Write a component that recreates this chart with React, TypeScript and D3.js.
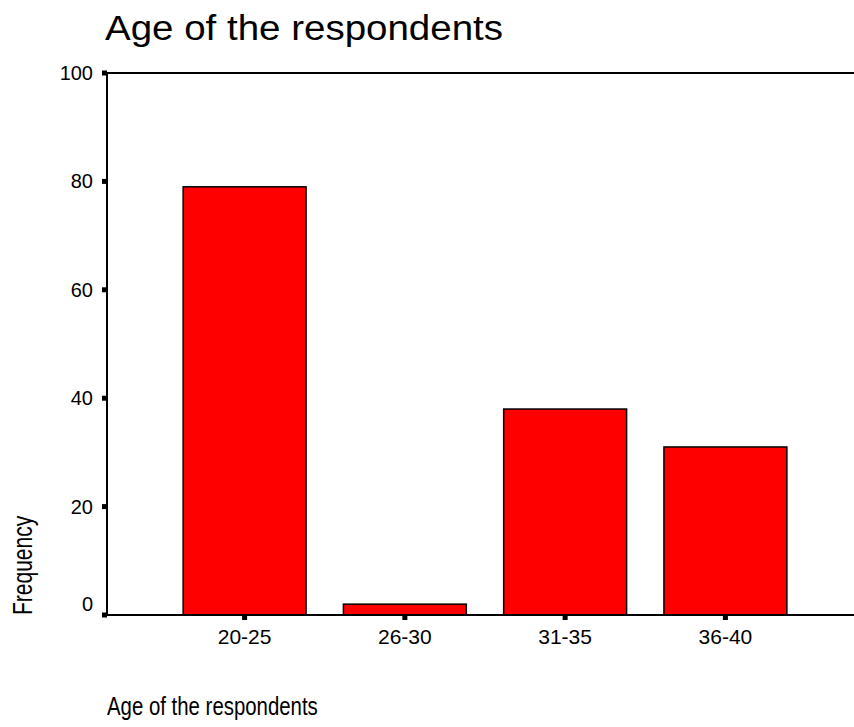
import React from "react";
import * as d3 from "d3";

const categories = ["20-25", "26-30", "31-35", "36-40"];
const frequencies = [79, 2, 38, 31];
const yTicks = [0, 20, 40, 60, 80, 100];
const title = "Age of the respondents";
const xTitle = "Age of the respondents";
const yTitle = "Frequency";

export default function App() {
  const W = 854;
  const H = 727;
  const left = 107;
  const right = 854;
  const top = 73;
  const bottom = 615;

  const y = d3.scaleLinear().domain([0, 100]).range([bottom, top]);
  const x = d3
    .scaleBand<string>()
    .domain(categories)
    .range([103, 867])
    .paddingInner(0.233)
    .paddingOuter(0.5);

  const font = "Liberation Sans, Arial, sans-serif";

  return (
    <svg
      width={W}
      height={H}
      style={{ position: "absolute", left: 0, top: 0, background: "#fff" }}
      fontFamily={font}
    >
      <rect x={0} y={0} width={W} height={H} fill="#fff" />
      <text transform="translate(105,40) scale(1.1,1)" fontSize={35} fill="#000">
        {title}
      </text>

      {categories.map((c, i) => (
        <rect
          key={c}
          x={x(c)!}
          y={y(frequencies[i])}
          width={x.bandwidth()}
          height={bottom - y(frequencies[i])}
          fill="#ff0000"
          stroke="#000"
          strokeWidth={1.5}
        />
      ))}

      {/* frame lines */}
      <line x1={left} x2={right} y1={top} y2={top} stroke="#000" strokeWidth={2} />
      <line x1={left} x2={right} y1={bottom} y2={bottom} stroke="#000" strokeWidth={2} />
      <line x1={left} x2={left} y1={top - 1} y2={bottom + 1} stroke="#000" strokeWidth={2} />

      {yTicks.map((t) => (
        <g key={t}>
          <rect x={left - 5} y={y(t) - 2.5} width={5} height={5} fill="#000" />
          <text
            x={93}
            y={t === 0 ? y(t) - 11 : y(t)}
            dy="0.35em"
            textAnchor="end"
            fontSize={20}
            fill="#000"
          >
            {t}
          </text>
        </g>
      ))}

      {categories.map((c) => {
        const cx = x(c)! + x.bandwidth() / 2;
        return (
          <g key={c}>
            <rect x={cx - 2.5} y={bottom} width={5} height={5} fill="#000" />
            <text x={cx} y={644} textAnchor="middle" fontSize={21} fill="#000">
              {c}
            </text>
          </g>
        );
      })}

      <text transform="translate(107,715) scale(1,1.3)" fontSize={20.4} fill="#000">
        {xTitle}
      </text>
      <text
        transform="translate(32,615) rotate(-90) scale(1,1.33)"
        textAnchor="start"
        fontSize={21}
        fill="#000"
      >
        {yTitle}
      </text>
    </svg>
  );
}
